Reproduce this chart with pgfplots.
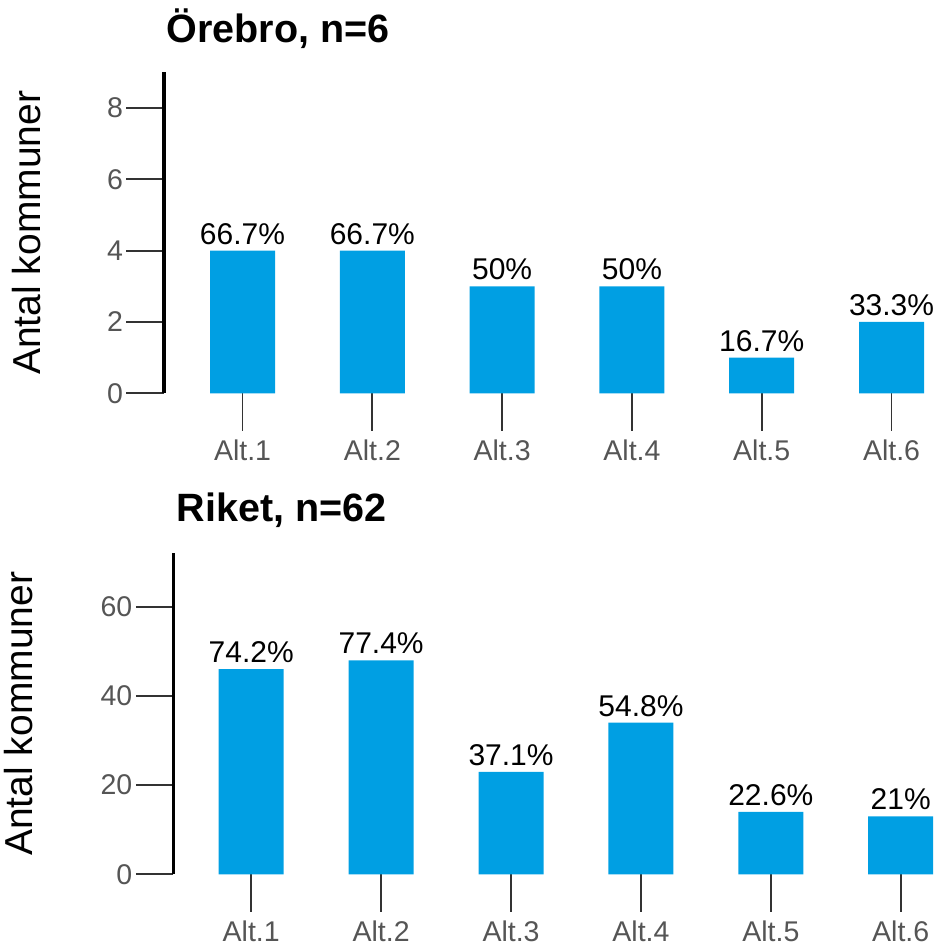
\documentclass[border=0pt]{standalone}
\usepackage{fontspec}
\setmainfont{Liberation Sans}
\usepackage{pgfplots}
\pgfplotsset{compat=1.18}
\definecolor{barblue}{HTML}{009FE3}
\definecolor{ticklab}{HTML}{555555}
\definecolor{tickcol}{HTML}{333333}
\pgfplotsset{
  panel/.style={
    anchor=south west,
    axis lines*=left,
    x axis line style={draw=none},
    y axis line style={line width=3.5pt, black, -},
    tick align=outside,
    major tick length=37.5pt,
    tick style={tickcol, line width=1.9pt},
    xmin=#1, xmax=6.45,
    xtick={1,2,3,4,5,6},
    xticklabels={Alt.1,Alt.2,Alt.3,Alt.4,Alt.5,Alt.6},
    ticklabel style={ticklab, font=\fontsize{28.5}{28.5}\selectfont},
    xticklabel style={yshift=-6pt},
    /pgf/number format/assume math mode=true,
    ylabel={Antal kommuner},
    ylabel style={font=\fontsize{39}{39}\selectfont, black},
    title style={font=\bfseries\fontsize{39.5}{39.5}\selectfont, anchor=base west},
    ybar, bar width=65pt,
    ymin=0,
    clip=false,
    point meta=explicit symbolic,
    nodes near coords,
    every node near coord/.append style={font=\fontsize{30}{30}\selectfont, black, anchor=south, inner sep=0pt, yshift=6pt},
  }
}
\begin{document}
\begin{tikzpicture}
\path[use as bounding box] (0,0) rectangle (941pt,947pt);
\begin{axis}[panel=0.395,
  at={(164pt,553.7pt)},
  x=129.8pt, y=35.67pt,
  ymax=9, ytick={0,2,4,6,8},
  ylabel style={at={(axis description cs:-0.157,0.5)}, anchor=base},
  title={Örebro, n=6},
  title style={at={(axis description cs:0,1)}, yshift=23.3pt, xshift=-1pt},
]
\addplot[fill=barblue, draw=none] coordinates {
  (1,4) [66.7\%]
  (2,4) [66.7\%]
  (3,3) [50\%]
  (4,3) [50\%]
  (5,1) [16.7\%]
  (6,2) [33.3\%]
};
\end{axis}
\begin{axis}[panel=0.4,
  at={(173.3pt,72.7pt)},
  x=129.9pt, y=4.458pt,
  ymax=72, ytick={0,20,40,60},
  ylabel style={at={(axis description cs:-0.179,0.5)}, anchor=base},
  title={Riket, n=62},
  title style={at={(axis description cs:0,1)}, yshift=26.3pt, xshift=0pt},
]
\addplot[fill=barblue, draw=none] coordinates {
  (1,46) [74.2\%]
  (2,48) [77.4\%]
  (3,23) [37.1\%]
  (4,34) [54.8\%]
  (5,14) [22.6\%]
  (6,13) [21\%]
};
\end{axis}
\end{tikzpicture}
\end{document}
